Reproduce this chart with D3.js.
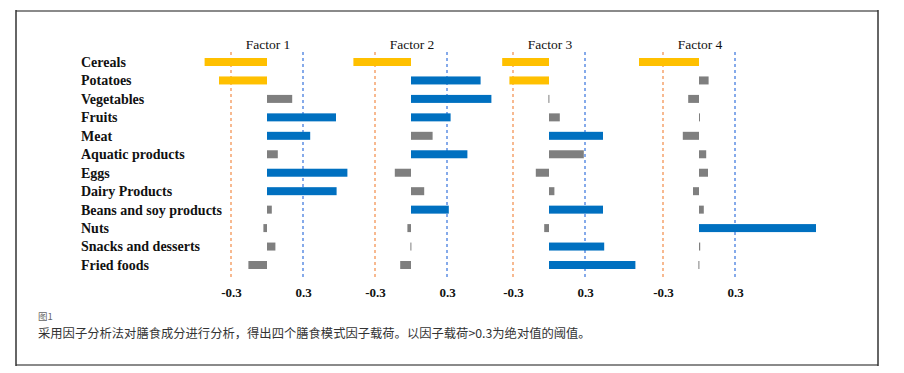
<!DOCTYPE html>
<html>
<head>
  <meta charset="utf-8">
  <title>factor loadings</title>
  <style>
    body {margin:0; background:#fff;}
    svg text {font-family: "Liberation Serif", "Times New Roman", serif; fill:#111;}
    svg .row text {font-weight:bold; font-size:14px;}
    svg .title {font-size:13.5px;}
    svg .tick text {font-weight:bold; font-size:13px;}
    svg text.cap {font-family: "Noto Sans CJK SC", sans-serif;}
  </style>
</head>
<body>
<script src="https://cdn.jsdelivr.net/npm/d3@7/dist/d3.min.js"></script>
<script>
  // data
  var foods = ['Cereals', 'Potatoes', 'Vegetables', 'Fruits', 'Meat', 'Aquatic products',
    'Eggs', 'Dairy Products', 'Beans and soy products', 'Nuts', 'Snacks and desserts', 'Fried foods'];
  var factors = ['Factor 1', 'Factor 2', 'Factor 3', 'Factor 4'];
  var factor1 = [-0.52, -0.40, 0.21, 0.575, 0.36, 0.09, 0.67, 0.58, 0.04, -0.03, 0.07, -0.155];
  var factor2 = [-0.48, 0.58, 0.67, 0.33, 0.18, 0.47, -0.135, 0.11, 0.315, -0.03, -0.005, -0.09];
  var factor3 = [-0.39, -0.33, -0.005, 0.09, 0.45, 0.29, -0.11, 0.045, 0.45, -0.04, 0.46, 0.72];
  var factor4 = [-0.50, 0.08, -0.09, 0.005, -0.135, 0.06, 0.075, -0.05, 0.04, 0.975, 0.01, -0.005];
  var loadings = [factor1, factor2, factor3, factor4];
  var ticks = [-0.3, 0.3];
  var threshold = 0.3;

  // layout
  var width = 904, height = 373;
  var panelZero = [267, 411, 549, 699];
  var unit = 120;

  var svg = d3.select('body').append('svg')
    .attr('width', width)
    .attr('height', height);

  svg.append('rect').attr('width', width).attr('height', height).attr('fill', '#fff');

  // frame
  svg.append('line').attr('x1', 16).attr('x2', 878).attr('y1', 11).attr('y2', 11)
    .attr('stroke', '#8a8a8a').attr('stroke-width', 2);
  svg.append('line').attr('x1', 16).attr('x2', 878).attr('y1', 365).attr('y2', 365)
    .attr('stroke', '#8a8a8a').attr('stroke-width', 2);
  svg.append('line').attr('x1', 16).attr('x2', 16).attr('y1', 10).attr('y2', 366)
    .attr('stroke', '#333').attr('stroke-width', 1.5);
  svg.append('line').attr('x1', 878).attr('x2', 878).attr('y1', 10).attr('y2', 366)
    .attr('stroke', '#333').attr('stroke-width', 1.5);

  var y = d3.scalePoint().domain(foods).range([62, 265]);
  var barH = 8;

  svg.append('g').attr('class', 'row')
    .selectAll('text')
    .data(foods)
    .join('text')
    .attr('x', 81)
    .attr('y', function(d){ return y(d); })
    .attr('dy', '0.35em')
    .text(function(d){ return d; });

  function color(v){
    if (v <= -threshold) return '#ffc000';
    if (v >= threshold) return '#0070c0';
    return '#7f7f7f';
  }

  factors.forEach(function(name, i){
    var z = panelZero[i];
    var x = d3.scaleLinear().domain([0, 1]).range([z, z + unit]);
    var g = svg.append('g');

    g.append('text')
      .attr('class', 'title')
      .attr('x', x(0) + 1)
      .attr('y', 49)
      .attr('text-anchor', 'middle')
      .text(name);

    g.selectAll('line.ref')
      .data(ticks)
      .join('line')
      .attr('class', 'ref')
      .attr('x1', function(d){ return x(d); })
      .attr('x2', function(d){ return x(d); })
      .attr('y1', 52)
      .attr('y2', 278)
      .attr('stroke', function(d){ return d < 0 ? '#f5a26c' : '#5d8fe3'; })
      .attr('stroke-width', 1.5)
      .attr('stroke-dasharray', '3,3');

    g.selectAll('rect.bar')
      .data(loadings[i])
      .join('rect')
      .attr('class', 'bar')
      .attr('x', function(d){ return Math.min(x(0), x(d)); })
      .attr('y', function(d, j){ return y(foods[j]) - barH / 2; })
      .attr('width', function(d){ return Math.max(1, Math.abs(x(d) - x(0))); })
      .attr('height', barH)
      .attr('fill', function(d){ return color(d); });

    var axis = d3.axisBottom(x)
      .tickValues(ticks)
      .tickSize(0)
      .tickFormat(function(d){ return d.toFixed(1); });

    g.append('g')
      .attr('transform', 'translate(0,285)')
      .attr('font-family', null)
      .call(axis)
      .call(function(a){ a.select('.domain').remove(); })
      .selectAll('text')
      .attr('font-family', null)
      .attr('font-size', null)
      .attr('fill', '#111');
  });

  // caption
  svg.append('text').attr('class', 'cap')
    .attr('x', 38).attr('y', 320)
    .attr('font-size', 9.5).style('fill', '#666')
    .text('图1');
  svg.append('text').attr('class', 'cap')
    .attr('x', 38).attr('y', 337.5)
    .attr('font-size', 12.3).style('fill', '#333')
    .text('采用因子分析法对膳食成分进行分析，得出四个膳食模式因子载荷。以因子载荷>0.3为绝对值的阈值。');
</script>
</body>
</html>
